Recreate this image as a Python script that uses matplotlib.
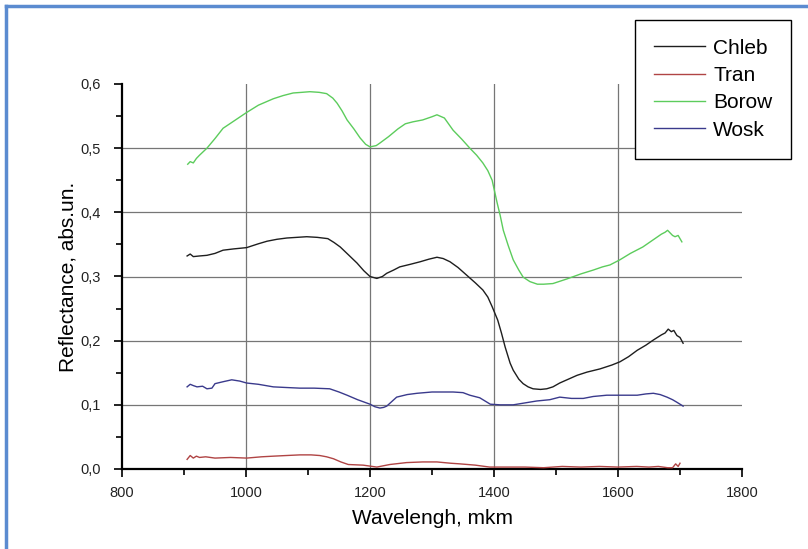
import matplotlib

matplotlib.use("Agg")
import matplotlib.pyplot as plt
from matplotlib.lines import Line2D
from matplotlib.ticker import FuncFormatter, MultipleLocator

plt.rcParams["font.family"] = ["Liberation Sans", "DejaVu Sans"]

# values
chleb_wl = [905, 910, 915, 925, 937, 950, 963, 980, 1001, 1020, 1034, 1050, 1066, 1082, 1098, 1115,
            1132, 1142, 1152, 1165, 1179, 1190, 1200, 1211, 1220, 1227, 1238, 1248, 1265, 1281, 1295,
            1308, 1318, 1329, 1342, 1356, 1370, 1382, 1390, 1397, 1406, 1412, 1418, 1426, 1431, 1440,
            1447, 1455, 1463, 1475, 1485, 1495, 1506, 1520, 1534, 1550, 1571, 1590, 1603, 1617, 1631,
            1645, 1657, 1670, 1676, 1681, 1686, 1690, 1695, 1700, 1705]
chleb_r = [0.332, 0.335, 0.331, 0.332, 0.333, 0.336, 0.341, 0.343, 0.345, 0.351, 0.355, 0.358, 0.360,
           0.361, 0.362, 0.361, 0.359, 0.353, 0.346, 0.334, 0.321, 0.309, 0.300, 0.297, 0.300, 0.305,
           0.310, 0.315, 0.319, 0.323, 0.327, 0.330, 0.328, 0.323, 0.314, 0.302, 0.290, 0.279, 0.268,
           0.253, 0.232, 0.212, 0.190, 0.165, 0.154, 0.140, 0.133, 0.128, 0.125, 0.124, 0.125, 0.128,
           0.134, 0.140, 0.146, 0.151, 0.156, 0.162, 0.167, 0.175, 0.185, 0.193, 0.201, 0.209, 0.212,
           0.218, 0.214, 0.216, 0.208, 0.205, 0.196]

tran_wl = [905, 910, 915, 920, 925, 935, 950, 975, 1001, 1025, 1044, 1065, 1087, 1105, 1119, 1130,
           1141, 1153, 1165, 1189, 1211, 1232, 1259, 1285, 1308, 1330, 1345, 1370, 1393, 1420, 1450,
           1480, 1510, 1540, 1570, 1600, 1630, 1650, 1665, 1680, 1688, 1693, 1697, 1700]
tran_r = [0.015, 0.021, 0.017, 0.020, 0.018, 0.019, 0.017, 0.018, 0.017, 0.019, 0.020, 0.021, 0.022,
          0.022, 0.021, 0.019, 0.016, 0.011, 0.007, 0.006, 0.003, 0.007, 0.010, 0.011, 0.011, 0.009,
          0.008, 0.006, 0.003, 0.003, 0.003, 0.002, 0.004, 0.003, 0.004, 0.003, 0.004, 0.003, 0.004,
          0.002, 0.002, 0.008, 0.004, 0.009]

borow_wl = [906, 910, 915, 920, 925, 937, 950, 963, 980, 1000, 1020, 1044, 1060, 1076, 1090, 1103,
            1118, 1130, 1140, 1147, 1155, 1163, 1174, 1184, 1193, 1200, 1210, 1216, 1230, 1245, 1257,
            1269, 1285, 1300, 1308, 1320, 1334, 1348, 1361, 1372, 1382, 1390, 1397, 1405, 1410, 1415,
            1423, 1431, 1440, 1447, 1458, 1470, 1480, 1495, 1517, 1540, 1560, 1575, 1587, 1603, 1620,
            1640, 1658, 1670, 1676, 1680, 1684, 1688, 1692, 1697, 1703]
borow_r = [0.475, 0.479, 0.477, 0.484, 0.489, 0.500, 0.515, 0.531, 0.542, 0.555, 0.567, 0.577, 0.582,
           0.586, 0.587, 0.588, 0.587, 0.585, 0.578, 0.570, 0.558, 0.544, 0.530, 0.516, 0.506, 0.502,
           0.504, 0.508, 0.518, 0.530, 0.538, 0.541, 0.544, 0.549, 0.552, 0.547, 0.528, 0.514, 0.500,
           0.489, 0.477, 0.465, 0.450, 0.415, 0.395, 0.372, 0.348, 0.326, 0.310, 0.299, 0.292, 0.288,
           0.288, 0.289, 0.296, 0.304, 0.310, 0.315, 0.318, 0.326, 0.336, 0.346, 0.358, 0.366, 0.369,
           0.372, 0.368, 0.364, 0.362, 0.364, 0.354]

wosk_wl = [905, 910, 915, 921, 930, 937, 945, 950, 963, 977, 990, 1001, 1020, 1044, 1065, 1087, 1110,
           1135, 1150, 1163, 1180, 1200, 1208, 1216, 1222, 1227, 1235, 1243, 1260, 1276, 1300, 1334,
           1350, 1361, 1377, 1394, 1410, 1431, 1450, 1469, 1490, 1506, 1525, 1544, 1560, 1582, 1605,
           1631, 1645, 1657, 1668, 1679, 1688, 1695, 1700, 1705]
wosk_r = [0.128, 0.132, 0.130, 0.128, 0.129, 0.125, 0.126, 0.133, 0.136, 0.139, 0.137, 0.134, 0.132,
          0.128, 0.127, 0.126, 0.126, 0.125, 0.120, 0.115, 0.108, 0.101, 0.097, 0.095, 0.096, 0.098,
          0.105, 0.112, 0.116, 0.118, 0.120, 0.120, 0.119, 0.115, 0.111, 0.101, 0.100, 0.100, 0.103,
          0.106, 0.108, 0.112, 0.110, 0.110, 0.113, 0.115, 0.115, 0.115, 0.117, 0.118, 0.116, 0.112,
          0.108, 0.104, 0.101, 0.098]

series = [
    ("Chleb", chleb_wl, chleb_r, "#1e1e1e"),
    ("Tran", tran_wl, tran_r, "#b04444"),
    ("Borow", borow_wl, borow_r, "#5ccc5c"),
    ("Wosk", wosk_wl, wosk_r, "#3a3a8c"),
]

fig = plt.figure(figsize=(8.08, 5.49), dpi=100)
ax = fig.add_axes([122 / 808, 1 - 469 / 549, 620 / 808, 385 / 549])

for x in (1000, 1200, 1400, 1600):
    ax.axvline(x, color="#767676", lw=0.9, zorder=1)
for y in (0.1, 0.2, 0.3, 0.4, 0.5):
    ax.axhline(y, color="#767676", lw=0.9, zorder=1)

for name, wl, r, color in series:
    ax.plot(wl, r, color=color, lw=1.0, label=name, zorder=3)

ax.set_xlim(800, 1800)
ax.set_ylim(0, 0.6)
ax.xaxis.set_major_locator(MultipleLocator(200))
ax.xaxis.set_minor_locator(MultipleLocator(100))
ax.yaxis.set_major_locator(MultipleLocator(0.1))
ax.yaxis.set_minor_locator(MultipleLocator(0.05))
ax.yaxis.set_major_formatter(FuncFormatter(lambda v, _: f"{v:.1f}".replace(".", ",")))

for side in ("top", "right"):
    ax.spines[side].set_visible(False)
for side in ("left", "bottom"):
    ax.spines[side].set_linewidth(1.6)
ax.tick_params(which="major", direction="out", length=6, width=1.4, labelsize=10.5, colors="#222222")
ax.tick_params(which="minor", direction="out", length=4, width=1.2)
ax.tick_params(axis="x", pad=6)
ax.tick_params(axis="y", pad=9)

ax.set_xlabel("Wavelengh, mkm", fontsize=15, labelpad=7)
ax.set_ylabel("Reflectance, abs.un.", fontsize=15, labelpad=2)

leg = fig.legend(loc="upper left", bbox_to_anchor=(635 / 808, 1 - 20 / 549), fontsize=15,
                 frameon=True, fancybox=False, edgecolor="black", framealpha=1,
                 handlelength=2.45, handletextpad=0.4, labelspacing=0.4, borderpad=0.9,
                 borderaxespad=0)
leg.get_frame().set_linewidth(1.0)

# light blue frame left over along the top and left edges of the picture
fig.add_artist(Line2D([6 / 808, 6 / 808], [0, 1 - 6 / 549], color="#5b8bd0", lw=2.5))
fig.add_artist(Line2D([6 / 808, 1], [1 - 6 / 549, 1 - 6 / 549], color="#5b8bd0", lw=2.5))

fig.savefig("out.png", dpi=100)
